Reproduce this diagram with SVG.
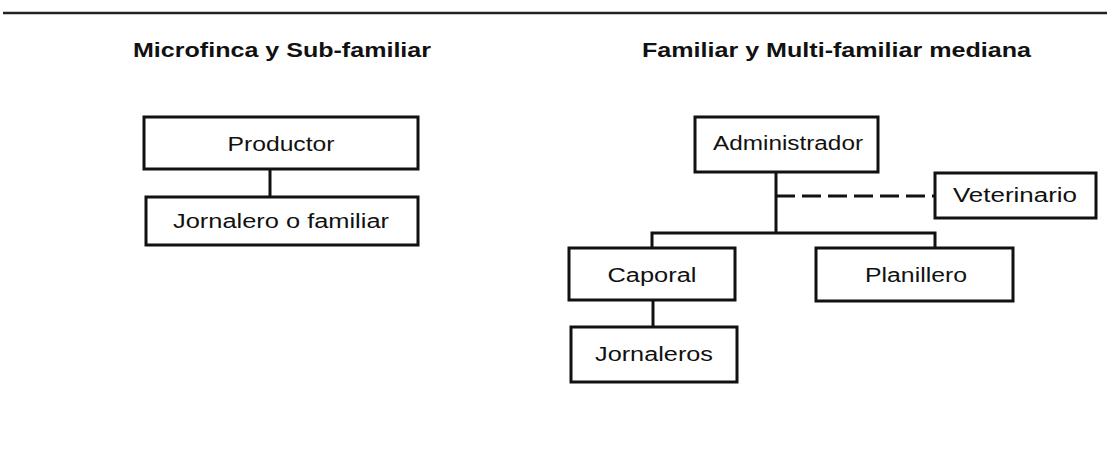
<svg xmlns="http://www.w3.org/2000/svg" width="1107" height="451" viewBox="0 0 1107 451">
<style>
.box{fill:#fff;stroke:#111;stroke-width:3}
.t{font-family:"Liberation Sans",Arial,sans-serif;font-size:19.5px;fill:#111;text-anchor:middle}
.h{font-family:"Liberation Sans",Arial,sans-serif;font-size:20.5px;font-weight:bold;fill:#111}
.c{fill:none;stroke:#111;stroke-width:3}
</style>
<rect width="1107" height="451" fill="#fff"/>
<line x1="3" y1="13" x2="1107" y2="13" stroke="#222" stroke-width="2.5"/>
<text class="h" x="133" y="57" textLength="298" lengthAdjust="spacingAndGlyphs">Microfinca y Sub-familiar</text>
<text class="h" x="642" y="57" textLength="389" lengthAdjust="spacingAndGlyphs">Familiar y Multi-familiar mediana</text>
<g id="connectors">
<line class="c" x1="270" y1="169" x2="270" y2="197"/>
<polyline class="c" points="776,172 776,233"/>
<polyline class="c" points="652,248 652,233 935,233 935,248"/>
<line class="c" x1="776" y1="196" x2="935" y2="196" stroke-dasharray="19 7"/>
<line class="c" x1="653" y1="300" x2="653" y2="327"/>
</g>
<g id="productor"><rect class="box" x="144" y="117" width="274" height="52"/><text class="t" x="281" y="151" textLength="107" lengthAdjust="spacingAndGlyphs">Productor</text></g>
<g id="jornalero-familiar"><rect class="box" x="146" y="197" width="272" height="48"/><text class="t" x="281" y="228" textLength="216" lengthAdjust="spacingAndGlyphs">Jornalero o familiar</text></g>
<g id="administrador"><rect class="box" x="695" y="117" width="183" height="55"/><text class="t" x="788" y="150" textLength="150" lengthAdjust="spacingAndGlyphs">Administrador</text></g>
<g id="veterinario"><rect class="box" x="935" y="173" width="161" height="45"/><text class="t" x="1015" y="202" textLength="124" lengthAdjust="spacingAndGlyphs">Veterinario</text></g>
<g id="caporal"><rect class="box" x="569" y="248" width="166" height="52"/><text class="t" x="652" y="282" textLength="89" lengthAdjust="spacingAndGlyphs">Caporal</text></g>
<g id="planillero"><rect class="box" x="816" y="248" width="197" height="53"/><text class="t" x="916" y="282" textLength="102" lengthAdjust="spacingAndGlyphs">Planillero</text></g>
<g id="jornaleros"><rect class="box" x="571" y="327" width="166" height="55"/><text class="t" x="654" y="361" textLength="118" lengthAdjust="spacingAndGlyphs">Jornaleros</text></g>
</svg>
